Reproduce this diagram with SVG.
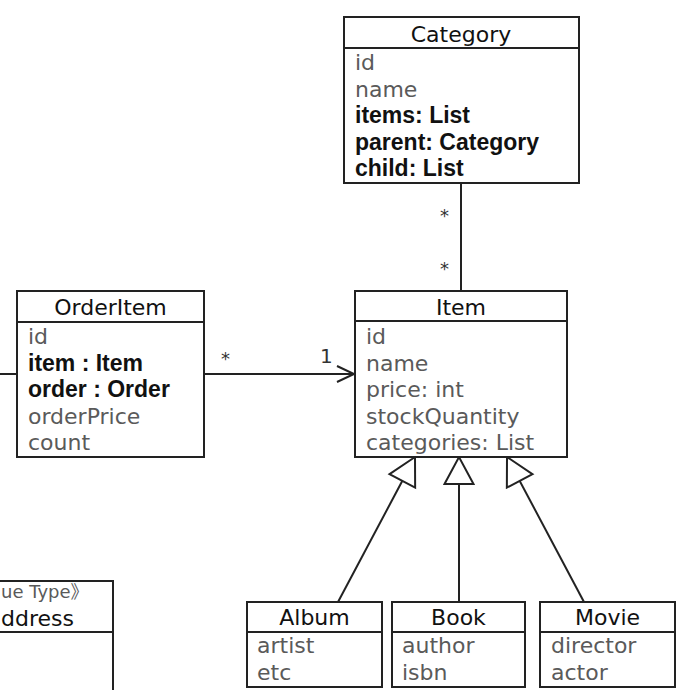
<svg xmlns="http://www.w3.org/2000/svg" width="677" height="690" viewBox="0 0 677 690">
<defs>
<style>
.box{fill:#fff;stroke:#222;stroke-width:2}
.div{stroke:#222;stroke-width:2}
.hd{font-family:"DejaVu Sans","Liberation Sans",sans-serif;font-size:22px;fill:#111;text-anchor:middle}
.at{font-family:"DejaVu Sans","Liberation Sans",sans-serif;font-size:22px;fill:#5a5a5a}
.bd{font-family:"Liberation Sans","DejaVu Sans",sans-serif;font-size:23px;fill:#111;font-weight:bold}
.ml{font-family:"DejaVu Sans","Liberation Sans",sans-serif;font-size:18px;fill:#333}
.ln{stroke:#222;stroke-width:2;fill:none}
</style>
<marker id="gen" markerUnits="userSpaceOnUse" viewBox="-2 -2 32 34" markerWidth="32" markerHeight="34" refX="27" refY="14.5" orient="auto">
<path d="M0,0 L27,14.5 L0,29 Z" fill="#fff" stroke="#222" stroke-width="2"/>
</marker>
<marker id="open" markerUnits="userSpaceOnUse" viewBox="-2 -2 22 20" markerWidth="22" markerHeight="20" refX="17" refY="8" orient="auto">
<path d="M0,0 L17,8 L0,16" fill="none" stroke="#222" stroke-width="2"/>
</marker>
</defs>
<rect width="677" height="690" fill="#fff"/>

<g id="connectors">
<line class="ln" x1="461" y1="183" x2="461" y2="291"/>
<text class="ml" x="440" y="222">*</text>
<text class="ml" x="440" y="275">*</text>
<line class="ln" x1="0" y1="374" x2="17" y2="374"/>
<line class="ln" x1="204" y1="374" x2="354" y2="374" marker-end="url(#open)"/>
<text class="ml" x="221" y="365">*</text>
<text class="ml" x="320" y="363" style="font-size:20px">1</text>
<line class="ln" x1="338" y1="602" x2="415" y2="457" marker-end="url(#gen)"/>
<line class="ln" x1="459" y1="602" x2="459" y2="457" marker-end="url(#gen)"/>
<line class="ln" x1="584" y1="602" x2="507" y2="457" marker-end="url(#gen)"/>
</g>

<g id="category">
<rect class="box" x="344" y="17" width="235" height="166"/>
<line class="div" x1="344" y1="48" x2="579" y2="48"/>
<text class="hd" x="461" y="42">Category</text>
<text class="at" x="355" y="70">id</text>
<text class="at" x="355" y="96.5">name</text>
<text class="bd" x="355" y="123">items: List</text>
<text class="bd" x="355" y="149.5">parent: Category</text>
<text class="bd" x="355" y="176">child: List</text>
</g>

<g id="item">
<rect class="box" x="355" y="291" width="212" height="166"/>
<line class="div" x1="355" y1="321" x2="567" y2="321"/>
<text class="hd" x="461" y="315">Item</text>
<text class="at" x="366" y="344">id</text>
<text class="at" x="366" y="370.5">name</text>
<text class="at" x="366" y="397">price: int</text>
<text class="at" x="366" y="423.5">stockQuantity</text>
<text class="at" x="366" y="450">categories: List</text>
</g>

<g id="orderitem">
<rect class="box" x="17" y="291" width="187" height="166"/>
<line class="div" x1="17" y1="322" x2="204" y2="322"/>
<text class="hd" x="110.5" y="315">OrderItem</text>
<text class="at" x="28" y="344">id</text>
<text class="bd" x="28" y="370.5">item : Item</text>
<text class="bd" x="28" y="397">order : Order</text>
<text class="at" x="28" y="423.5">orderPrice</text>
<text class="at" x="28" y="450">count</text>
</g>

<g id="album">
<rect class="box" x="247" y="602" width="135" height="85"/>
<line class="div" x1="247" y1="632" x2="382" y2="632"/>
<text class="hd" x="314.5" y="625">Album</text>
<text class="at" x="257" y="653">artist</text>
<text class="at" x="257" y="680">etc</text>
</g>

<g id="book">
<rect class="box" x="392" y="602" width="133" height="85"/>
<line class="div" x1="392" y1="632" x2="525" y2="632"/>
<text class="hd" x="458.5" y="625">Book</text>
<text class="at" x="402" y="653">author</text>
<text class="at" x="402" y="680">isbn</text>
</g>

<g id="movie">
<rect class="box" x="540" y="602" width="135" height="85"/>
<line class="div" x1="540" y1="632" x2="675" y2="632"/>
<text class="hd" x="607.5" y="625">Movie</text>
<text class="at" x="551" y="653">director</text>
<text class="at" x="551" y="680">actor</text>
</g>

<g id="address">
<rect class="box" x="-10" y="581" width="123" height="120"/>
<line class="div" x1="-10" y1="632" x2="113" y2="632"/>
<text x="1" y="598" style="font-family:'DejaVu Sans','Noto Sans CJK KR',sans-serif;font-size:18px;fill:#5a5a5a">ue Type<tspan style="font-family:'Noto Sans CJK KR',sans-serif">》</tspan></text>
<text class="hd" x="1" y="626" style="text-anchor:start">ddress</text>
</g>
</svg>
